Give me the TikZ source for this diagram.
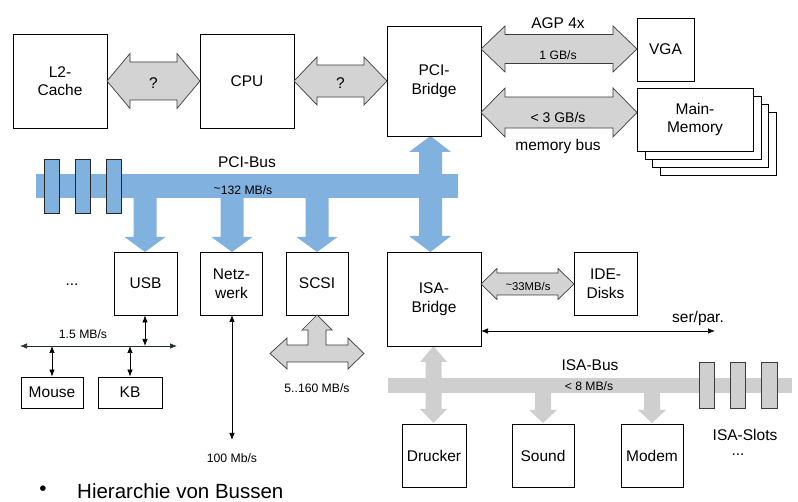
\documentclass[tikz,border=0pt]{standalone}
\usepackage{fontspec}
\setmainfont{Liberation Sans}
\usetikzlibrary{arrows.meta}
\definecolor{pciblue}{RGB}{128,177,223}
\definecolor{arrgray}{RGB}{211,211,211}
\definecolor{isagray}{RGB}{207,207,207}
\definecolor{edgegray}{RGB}{60,60,60}
\definecolor{usbline}{RGB}{25,50,35}
% horizontal double block arrow: style, x1, x2, yc, half shaft, half outer, head length
\newcommand\hdblarrow[7]{%
  \path[#1] (#2,#4) -- (#2+#7,#4-#6) -- (#2+#7,#4-#5) -- (#3-#7,#4-#5) -- (#3-#7,#4-#6)
    -- (#3,#4) -- (#3-#7,#4+#6) -- (#3-#7,#4+#5) -- (#2+#7,#4+#5) -- (#2+#7,#4+#6) -- cycle;}
% downward block arrow from bus: style, xc, ytop, headbase, tip, half shaft, half head
\newcommand\downblk[7]{%
  \path[#1] (#2-#6,#3) -- (#2+#6,#3) -- (#2+#6,#4) -- (#2+#7,#4) -- (#2,#5)
    -- (#2-#7,#4) -- (#2-#6,#4) -- cycle;}
\tikzset{
  box/.style={draw=black, line width=0.8pt, fill=white, inner sep=0pt, align=center,
              font=\fontsize{15.5}{18.5}\selectfont},
  big/.style={inner sep=0pt, font=\fontsize{15.5}{18.5}\selectfont},
  small/.style={inner sep=0pt, font=\fontsize{12.2}{14}\selectfont},
  grayblk/.style={fill=arrgray, draw=edgegray, line width=0.7pt, line join=miter},
  blueblk/.style={fill=pciblue},
  isablk/.style={fill=isagray},
  bslot/.style={fill=pciblue, draw=black!85, line width=0.8pt},
  islot/.style={fill=isagray, draw=edgegray, line width=0.8pt},
  thinarr/.style={line width=0.7pt, {Latex[length=7pt,width=5.5pt]}-{Latex[length=7pt,width=5.5pt]}},
}
\begin{document}
\begin{tikzpicture}[x=1pt,y=-1pt]
\useasboundingbox (0,0) rectangle (798,502);

% ---------- PCI bus (blue) ----------
\fill[pciblue] (36,174) rectangle (458,198);
\downblk{blueblk}{145}{196}{237}{252}{11.5}{20.5}
\downblk{blueblk}{232}{196}{237}{252}{11.5}{20.5}
\downblk{blueblk}{317}{196}{237}{252}{11.5}{20.5}
\path[blueblk] (430.5,136) -- (451,152) -- (442,152) -- (442,236) -- (451,236) -- (430.5,252)
   -- (409,236) -- (419,236) -- (419,152) -- (409,152) -- cycle;
\draw[bslot] (44,159) rectangle (59.5,213);
\draw[bslot] (75,159) rectangle (90.5,213);
\draw[bslot] (106,159) rectangle (121.5,213);
\node[big] (pcibus) at (247,162) {PCI-Bus};
\node[small] (pcirate) at (243,190) {\raisebox{0.3ex}{\textasciitilde}132 MB/s};

% ---------- ISA bus (gray) ----------
\fill[isagray] (388,378) rectangle (792,393);
\path[isablk] (433.5,346) -- (447,362) -- (441.5,362) -- (441.5,409) -- (447,409) -- (433.5,423)
   -- (420,409) -- (425.5,409) -- (425.5,362) -- (420,362) -- cycle;
\downblk{isablk}{543}{391}{410}{423}{8}{14}
\downblk{isablk}{652}{391}{410}{423}{8}{14}
\draw[islot] (699,362) rectangle (714,408);
\draw[islot] (730,362) rectangle (745,408);
\draw[islot] (761,362) rectangle (777,408);
\node[big] (isabus) at (590,365) {ISA-Bus};
\node[small] (isarate) at (589,386) {< 8 MB/s};
\node[big] (isaslots) at (745,435) {ISA-Slots};
\node[big] (isadots) at (738,455) {...};

% ---------- boxes ----------
\node[box, minimum width=94, minimum height=94] (l2) at (60,81) {L2-\\Cache};
\node[box, minimum width=94, minimum height=94] (cpu) at (247,81) {CPU};
\node[box, minimum width=94, minimum height=110] (pcib) at (434,81) {PCI-\\Bridge};
\node[box, minimum width=57, minimum height=63] (vga) at (665.5,49.5) {VGA};
\node[box, minimum width=116, minimum height=63] (mem4) at (718,143.5) {};
\node[box, minimum width=116, minimum height=63] (mem3) at (710.5,135.5) {};
\node[box, minimum width=116, minimum height=63] (mem2) at (703,127.5) {};
\node[box, minimum width=116, minimum height=63] (mem) at (695,119.5) {Main-\\Memory};
\node[box, minimum width=63, minimum height=63] (usb) at (145.5,283.5) {USB};
\node[box, minimum width=62, minimum height=63] (netz) at (231.5,283.5) {Netz-\\werk};
\node[box, minimum width=62, minimum height=63] (scsi) at (317,283.5) {SCSI};
\node[box, minimum width=94, minimum height=94] (isab) at (434,299) {ISA-\\Bridge};
\node[box, minimum width=63, minimum height=63] (ide) at (605.5,283.5) {IDE-\\Disks};
\node[box, minimum width=62, minimum height=31] (mouse) at (52,392.5) {Mouse};
\node[box, minimum width=64, minimum height=31] (kb) at (130,392.5) {KB};
\node[box, minimum width=64, minimum height=63] (drucker) at (434,455.5) {Drucker};
\node[box, minimum width=62, minimum height=63] (sound) at (543,455.5) {Sound};
\node[box, minimum width=62, minimum height=63] (modem) at (652,455.5) {Modem};

% ---------- gray block arrows ----------
\hdblarrow{grayblk}{107}{200}{81}{19}{27.5}{23}
\hdblarrow{grayblk}{294}{387}{81}{16}{24}{23}
\hdblarrow{grayblk}{481}{637}{49}{14.5}{23}{24}
\hdblarrow{grayblk}{481}{637}{112.5}{15.5}{24.5}{24}
\hdblarrow{grayblk}{481}{574}{284}{11}{15.5}{16}
\path[grayblk] (317,315) -- (332,330) -- (326,330) -- (326,345) -- (348,345) -- (348,338)
   -- (364,353.5) -- (348,369) -- (348,362) -- (287,362) -- (287,369) -- (270,353.5)
   -- (287,338) -- (287,345) -- (308,345) -- (308,330) -- (302,330) -- cycle;

\node[big] (q1) at (153.5,83) {?};
\node[big] (q2) at (340.5,83) {?};
\node[big] (agp) at (558,23) {AGP 4x};
\node[small] (agprate) at (558,55) {1 GB/s};
\node[inner sep=0pt, font=\fontsize{14}{16}\selectfont] (memrate) at (558,117) {< 3 GB/s};
\node[big] (membus) at (558,146) {memory bus};
\node[inner sep=0pt, font=\fontsize{11.3}{13}\selectfont] (iderate) at (528,286) {\raisebox{0.3ex}{\textasciitilde}33MB/s};
\node[small] (scsirate) at (317,388) {5..160 MB/s};

% ---------- thin connectors ----------
\coordinate (usbl) at (20,346);
\coordinate (usbr) at (177,346);
\draw[thinarr, draw=usbline] (usbl) -- (usbr);
\draw[thinarr] (usb.south -| 145,0) -- (145,346);
\draw[thinarr] (mouse.north) -- (mouse.north |- usbl);
\draw[thinarr] (kb.north) -- (kb.north |- usbl);
\node[small] (usbrate) at (83,334) {1.5 MB/s};
\node[big] (usbdots) at (72,285) {...};

\coordinate (netend) at (232,440);
\draw[thinarr] (232,315) -- (netend);
\node[small] (netrate) at (232,458) {100 Mb/s};

\coordinate (sp1) at (481,331);
\coordinate (sp2) at (715,331);
\draw[thinarr] (sp1) -- (sp2);
\node[big] (serpar) at (698,318) {ser/par.};

% ---------- footer ----------
\node[inner sep=0pt, font=\fontsize{20.5}{24}\selectfont] (bullet) at (43,491) {\textbullet};
\node[inner sep=0pt, anchor=west, font=\fontsize{20.5}{24}\selectfont] (hier) at (77,491) {Hierarchie von Bussen};
\end{tikzpicture}
\end{document}
